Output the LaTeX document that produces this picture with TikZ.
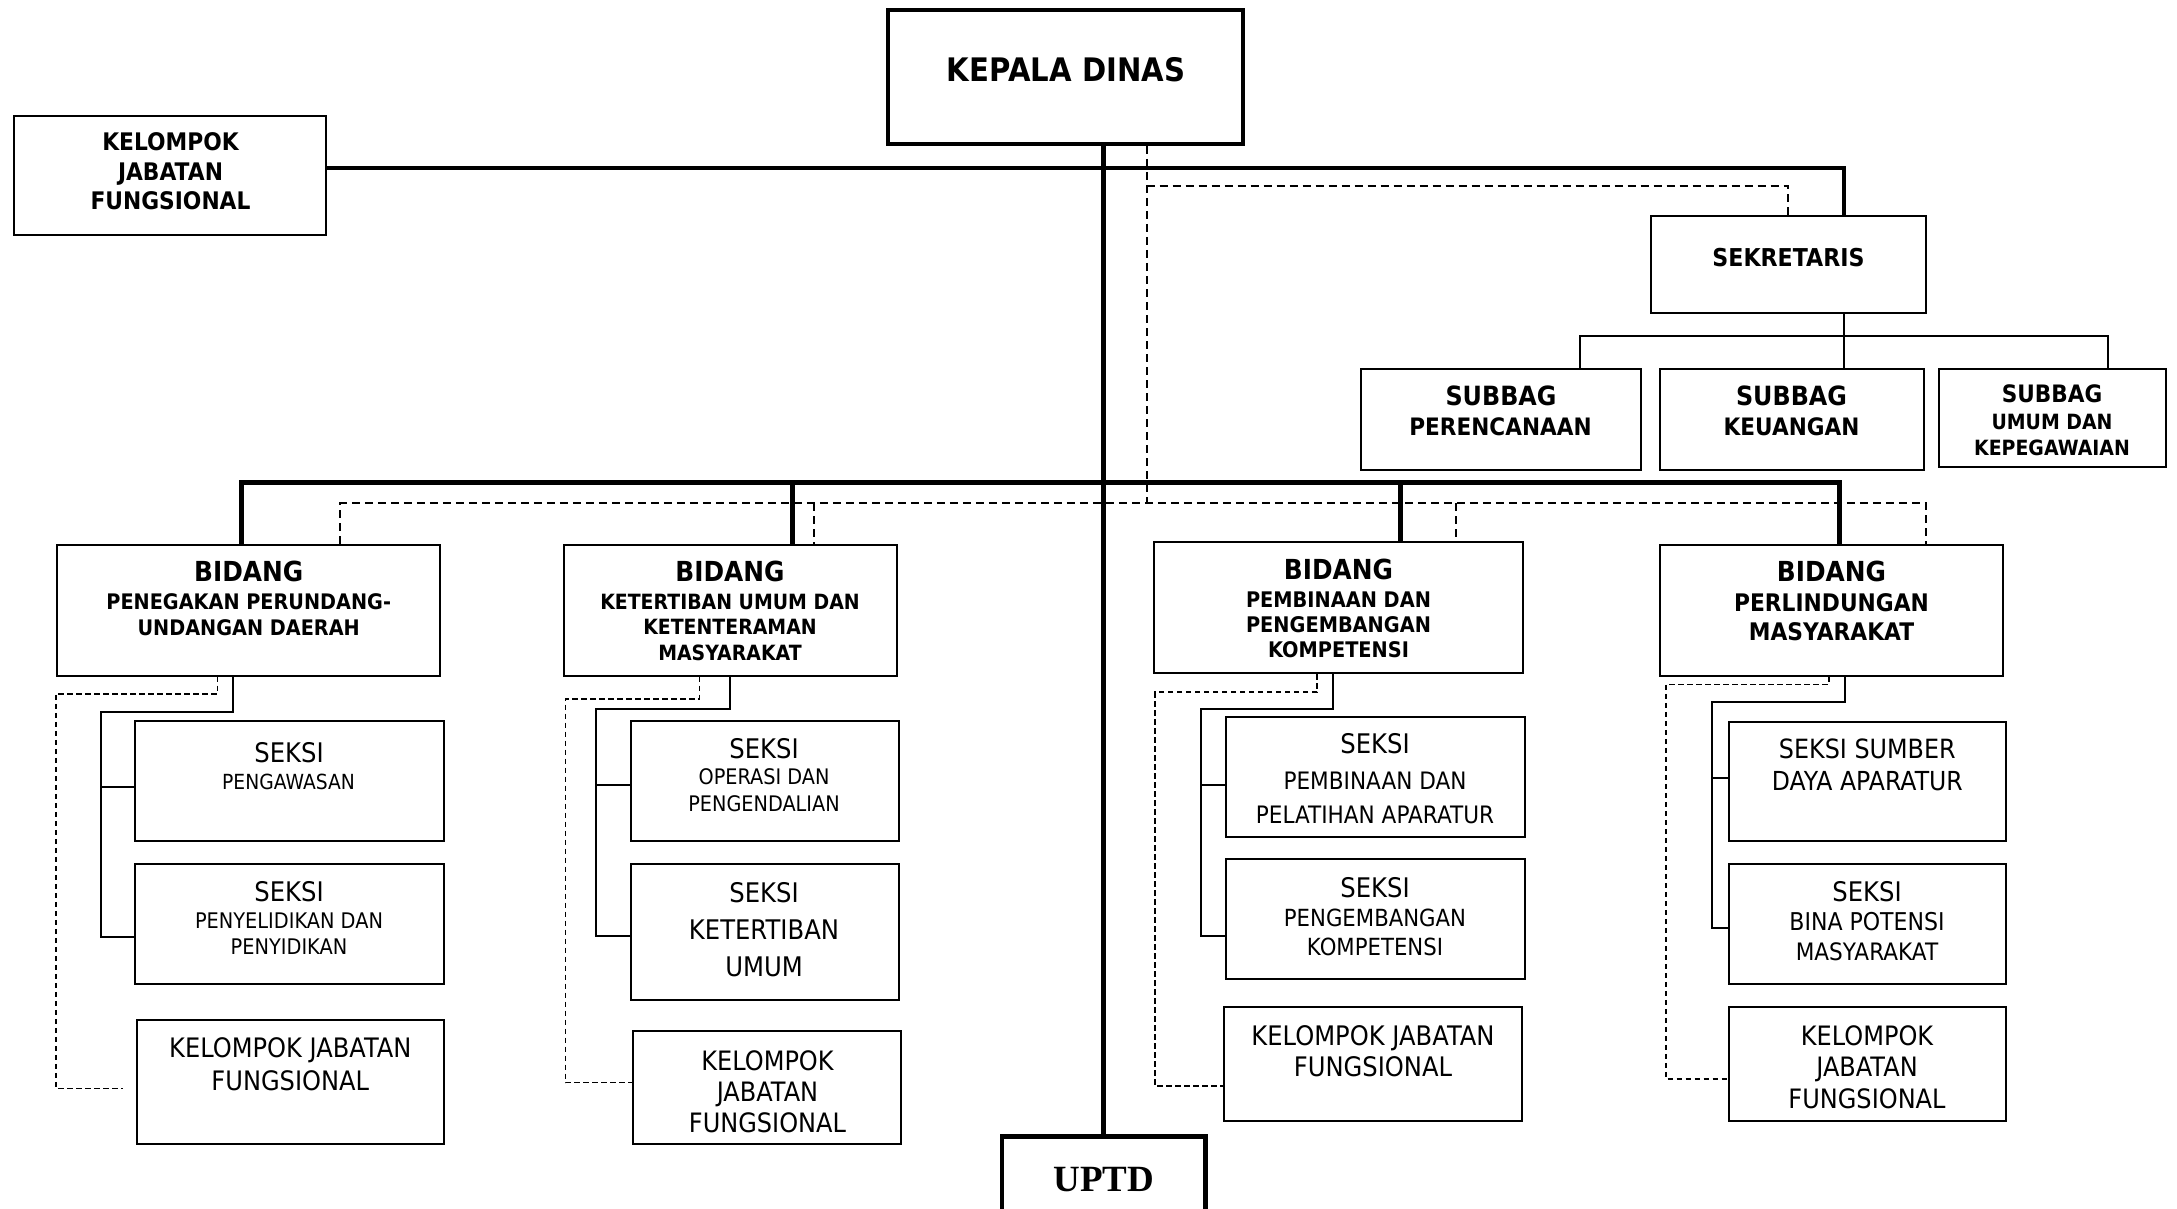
\documentclass[tikz,border=0pt]{standalone}
\usepackage{fontspec}
\setmainfont{DejaVu Sans}[FakeStretch=0.9]
\newfontfamily\uptdfont{Liberation Serif}
\tikzset{
  box/.style={draw, line width=2pt, rectangle, inner sep=0pt},
  heavybox/.style={box, line width=4pt},
  conn/.style={line width=2pt},
  heavy/.style={line width=5pt},
  midline/.style={line width=3.7pt},
  dsh/.style={line width=1.8pt, dash pattern=on 8pt off 5pt},
  dshs/.style={line width=1.6pt, dash pattern=on 5.5pt off 3.5pt},
}
\newcommand\bx[6][]{\node[box,#1,minimum width={(#5-#3)*1pt},minimum height={(#6-#4)*1pt}] (#2) at ({(#3+#5)/2},{(#4+#6)/2}) {};}
\newcommand\txb[5]{\node[anchor=base,inner sep=0pt] (#1) at (#2,#3) {\fontsize{#4pt}{#4pt}\selectfont\bfseries #5};}
\newcommand\txr[5]{\node[anchor=base,inner sep=0pt] (#1) at (#2,#3) {\fontsize{#4pt}{#4pt}\selectfont #5};}
\begin{document}
\begin{tikzpicture}[x=1pt,y=-1pt]
\useasboundingbox (0,0) rectangle (2177,1209);
% boxes
\bx[heavybox]{kd}{887.5}{10}{1242.5}{144}
\bx{kjf0}{14}{116.5}{326}{235.5}
\bx{sek}{1651}{216.5}{1925.5}{312.5}
\bx{sb1}{1360.5}{368.5}{1640.5}{469.5}
\bx{sb2}{1659.5}{368.5}{1923.5}{469.5}
\bx{sb3}{1938.5}{368.5}{2165.5}{467}
\bx{b1}{57}{544.5}{440}{675.5}
\bx{b2}{563.5}{545}{896.5}{675.5}
\bx{b3}{1153.5}{542}{1523}{673}
\bx{b4}{1659.5}{545}{2003}{675.5}
\bx{s11}{135}{721}{443.5}{841}
\bx{s12}{134.5}{864}{444}{984}
\bx{k1}{137}{1020}{444}{1144}
\bx{s21}{630.5}{721}{898.5}{841}
\bx{s22}{630.5}{864}{898.5}{1000}
\bx{k2}{633}{1031}{901}{1144}
\bx{s31}{1226}{716.6}{1524.5}{836.5}
\bx{s32}{1226}{859.4}{1524.5}{979.4}
\bx{k3}{1224}{1007}{1522.4}{1121}
\bx{s41}{1728.5}{721.7}{2006}{841}
\bx{s42}{1728.5}{863.5}{2006}{983.6}
\bx{k4}{1728.5}{1007}{2006}{1121}
\bx[heavybox,line width=4.5pt]{uptd}{1002}{1136.3}{1205.5}{1240}
% texts
\txb{tkd}{1066}{82}{32.4}{KEPALA DINAS}
\txb{tk0a}{170.5}{151}{24.2}{KELOMPOK}
\txb{tk0b}{170.5}{180.7}{24.2}{JABATAN}
\txb{tk0c}{170.5}{209.3}{24.2}{FUNGSIONAL}
\txb{tsek}{1788.5}{266.7}{24.6}{SEKRETARIS}
\txb{tsb1a}{1501}{405.7}{26.5}{SUBBAG}
\txb{tsb1b}{1500.5}{435}{24}{PERENCANAAN}
\txb{tsb2a}{1791.5}{405.7}{26.5}{SUBBAG}
\txb{tsb2b}{1791.5}{435}{24}{KEUANGAN}
\txb{tsb3a}{2052}{402.7}{24}{SUBBAG}
\txb{tsb3b}{2052}{429.3}{21}{UMUM DAN}
\txb{tsb3c}{2052}{455}{21}{KEPEGAWAIAN}
\txb{tb1a}{248.7}{581.7}{27.6}{BIDANG}
\txb{tb1b}{248.7}{609.3}{21.4}{PENEGAKAN PERUNDANG-}
\txb{tb1c}{248.7}{635}{21.4}{UNDANGAN DAERAH}
\txb{tb2a}{730}{581.8}{27.6}{BIDANG}
\txb{tb2b}{730}{609}{21}{KETERTIBAN UMUM DAN}
\txb{tb2c}{730}{634.4}{21}{KETENTERAMAN}
\txb{tb2d}{730}{660.7}{21}{MASYARAKAT}
\txb{tb3a}{1338.5}{579.4}{27.6}{BIDANG}
\txb{tb3b}{1338.5}{607}{21.5}{PEMBINAAN DAN}
\txb{tb3c}{1338.5}{632}{21.5}{PENGEMBANGAN}
\txb{tb3d}{1338.5}{657.3}{21.5}{KOMPETENSI}
\txb{tb4a}{1831.5}{581.7}{27.6}{BIDANG}
\txb{tb4b}{1831.5}{611.7}{24.2}{PERLINDUNGAN}
\txb{tb4c}{1831.5}{640.7}{24.2}{MASYARAKAT}
\txr{ts11a}{289}{762.3}{27}{SEKSI}
\txr{ts11b}{288.5}{789}{20.8}{PENGAWASAN}
\txr{ts12a}{289}{901.7}{27}{SEKSI}
\txr{ts12b}{289}{928.3}{21.5}{PENYELIDIKAN DAN}
\txr{ts12c}{289}{954}{21.5}{PENYIDIKAN}
\txr{tk1a}{290.3}{1057.3}{26.8}{KELOMPOK JABATAN}
\txr{tk1b}{290.3}{1090}{26.8}{FUNGSIONAL}
\txr{ts21a}{764}{758.6}{27}{SEKSI}
\txr{ts21b}{764}{784.9}{21.4}{OPERASI DAN}
\txr{ts21c}{764}{811.2}{21.4}{PENGENDALIAN}
\txr{ts22a}{764}{902}{27}{SEKSI}
\txr{ts22b}{764}{939}{27}{KETERTIBAN}
\txr{ts22c}{764}{976}{27}{UMUM}
\txr{tk2a}{767.5}{1070.6}{26.7}{KELOMPOK}
\txr{tk2b}{767.5}{1101.7}{26.7}{JABATAN}
\txr{tk2c}{767.5}{1132.2}{26.7}{FUNGSIONAL}
\txr{ts31a}{1375}{753.8}{27}{SEKSI}
\txr{ts31b}{1375}{789.7}{24}{PEMBINAAN DAN}
\txr{ts31c}{1375}{823}{24}{PELATIHAN APARATUR}
\txr{ts32a}{1375}{897.2}{27}{SEKSI}
\txr{ts32b}{1375}{926.8}{23.6}{PENGEMBANGAN}
\txr{ts32c}{1375}{955.5}{23.6}{KOMPETENSI}
\txr{tk3a}{1373}{1045.3}{26.9}{KELOMPOK JABATAN}
\txr{tk3b}{1373}{1076.3}{26.9}{FUNGSIONAL}
\txr{ts41a}{1867.3}{758.3}{26.5}{SEKSI SUMBER}
\txr{ts41b}{1867.3}{790.7}{26.2}{DAYA APARATUR}
\txr{ts42a}{1867}{901}{27}{SEKSI}
\txr{ts42b}{1867}{930}{24.5}{BINA POTENSI}
\txr{ts42c}{1867}{960.7}{24}{MASYARAKAT}
\txr{tk4a}{1867}{1045.3}{26.7}{KELOMPOK}
\txr{tk4b}{1867}{1076.3}{26.7}{JABATAN}
\txr{tk4c}{1867}{1108.4}{26.7}{FUNGSIONAL}
\node[anchor=base,inner sep=0pt] (tup) at (1104,1191) {\uptdfont\bfseries\fontsize{37pt}{37pt}\selectfont UPTD};
% coordinates
\coordinate (m0) at (1103.3,482);
\coordinate (j1) at (1843.7,167.7);
\coordinate (d0) at (1146.7,503.3);
\coordinate (d1) at (1146.7,185.7);
\coordinate (d2) at (1788,185.7);
\coordinate (sa) at (1580,336);
\coordinate (sb) at (1843.7,336);
\coordinate (sc) at (2107.7,336);
\coordinate (bl) at (241.7,482);
\coordinate (br) at (1839,482);
\coordinate (bm2) at (792.7,482);
\coordinate (bm3) at (1400,482);
\coordinate (dl) at (340,503.3);
\coordinate (dr) at (1926,503.3);
\coordinate (dm2) at (813.7,503.3);
\coordinate (dm3) at (1456,503.3);
% main connectors
\draw[heavy] (kd.south -| m0) -- (uptd.north -| m0);
\draw[midline] (kjf0.east |- j1) -- (j1) -- (sek.north -| j1);
\draw[dsh] (kd.south -| d0) -- (d0);
\draw[dsh] (d1) -- (d2) -- (sek.north -| d2);
\draw[conn] (sek.south -| sb) -- (sb) -- (sb2.north -| sb);
\draw[conn] (sb1.north -| sa) -- (sa) -- (sc) -- (sb3.north -| sc);
\draw[heavy] (b1.north -| bl) -- (bl) -- (br) -- (b4.north -| br);
\draw[heavy] (bm2) -- (b2.north -| bm2);
\draw[heavy] (bm3) -- (b3.north -| bm3);
\draw[dsh] (b1.north -| dl) -- (dl) -- (dr) -- (b4.north -| dr);
\draw[dsh] (dm2) -- (b2.north -| dm2);
\draw[dsh] (dm3) -- (b3.north -| dm3);
% bidang 1 children
\coordinate (c1a) at (233.3,711.7); \coordinate (c1b) at (101,711.7);
\coordinate (c1c) at (101,786.7); \coordinate (c1d) at (101,936.7);
\draw[conn] (b1.south -| c1a) -- (c1a) -- (c1b) -- (c1d) -- (s12.west |- c1d);
\draw[conn] (c1c) -- (s11.west |- c1c);
\coordinate (e1a) at (217.3,693.7); \coordinate (e1b) at (55.7,693.7);
\coordinate (e1c) at (55.7,1088.3); \coordinate (e1d) at (122.7,1088.3);
\draw[dshs] (b1.south -| e1a) -- (e1a) -- (e1b) -- (e1c) -- (e1d);
% bidang 2 children
\coordinate (c2a) at (729.6,709.4); \coordinate (c2b) at (596.3,709.4);
\coordinate (c2c) at (596.3,784.9); \coordinate (c2d) at (596.3,935.9);
\draw[conn] (b2.south -| c2a) -- (c2a) -- (c2b) -- (c2d) -- (s22.west |- c2d);
\draw[conn] (c2c) -- (s21.west |- c2c);
\coordinate (e2a) at (699.4,698.9); \coordinate (e2b) at (565.4,698.9);
\coordinate (e2c) at (565.4,1082.6);
\draw[dshs] (b2.south -| e2a) -- (e2a) -- (e2b) -- (e2c) -- (k2.west |- e2c);
% bidang 3 children
\coordinate (c3a) at (1332.8,709); \coordinate (c3b) at (1201,709);
\coordinate (c3c) at (1201,784.9); \coordinate (c3d) at (1201,935.9);
\draw[conn] (b3.south -| c3a) -- (c3a) -- (c3b) -- (c3d) -- (s32.west |- c3d);
\draw[conn] (c3c) -- (s31.west |- c3c);
\coordinate (e3a) at (1317,692.2); \coordinate (e3b) at (1155,692.2);
\coordinate (e3c) at (1155,1086);
\draw[dshs] (b3.south -| e3a) -- (e3a) -- (e3b) -- (e3c) -- (k3.west |- e3c);
% bidang 4 children
\coordinate (c4a) at (1845,702.3); \coordinate (c4b) at (1712.3,702.3);
\coordinate (c4c) at (1712.3,777.7); \coordinate (c4d) at (1712.3,927.7);
\draw[conn] (b4.south -| c4a) -- (c4a) -- (c4b) -- (c4d) -- (s42.west |- c4d);
\draw[conn] (c4c) -- (s41.west |- c4c);
\coordinate (e4a) at (1828.7,684.3); \coordinate (e4b) at (1666,684.3);
\coordinate (e4c) at (1666,1079.2);
\draw[dshs] (b4.south -| e4a) -- (e4a) -- (e4b) -- (e4c) -- (k4.west |- e4c);
\end{tikzpicture}
\end{document}
